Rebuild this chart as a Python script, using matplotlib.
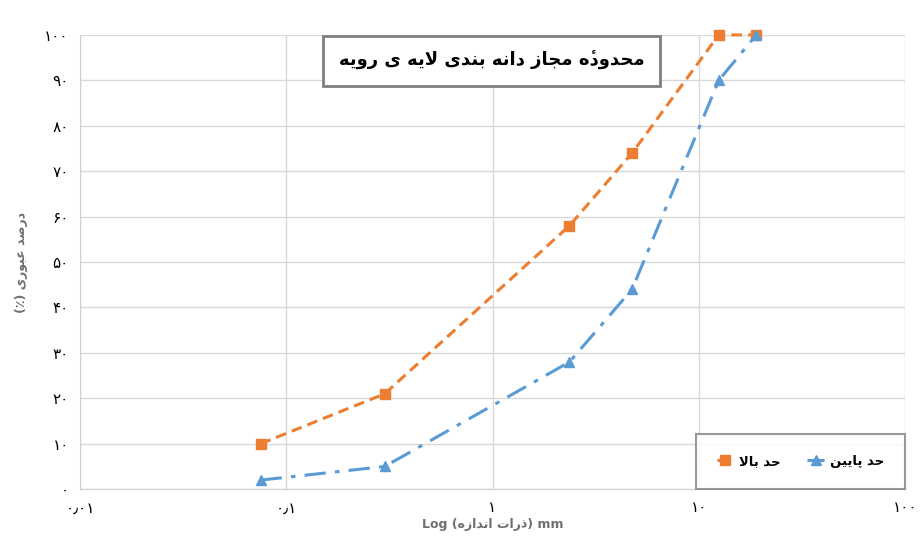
import matplotlib
matplotlib.use('Agg')
import matplotlib.pyplot as plt

# sieve sizes (mm) and passing percent
sieve_mm = [0.075, 0.3, 2.36, 4.75, 12.5, 19]
upper_pct = [10, 21, 58, 74, 100, 100]
lower_pct = [2, 5, 28, 44, 90, 100]

y_ticks = [0, 10, 20, 30, 40, 50, 60, 70, 80, 90, 100]
x_ticks = [0.01, 0.1, 1, 10, 100]
x_tick_labels = ['۰٫۰۱', '۰٫۱', '۱', '۱۰', '۱۰۰']

title_txt = 'محدودهٔ مجاز دانه بندی لایه ی رویه'
upper_name = 'حد بالا'
lower_name = 'حد پایین'
ylabel_txt = 'درصد عبوری'
xlabel_words = ['اندازه', 'ذرات']

# presentation forms: isolated, final, initial, medial
FORMS = {
    'ا': ('\uFE8D', '\uFE8E', None, None),
    'ب': ('\uFE8F', '\uFE90', '\uFE91', '\uFE92'),
    'ت': ('\uFE95', '\uFE96', '\uFE97', '\uFE98'),
    'ج': ('\uFE9D', '\uFE9E', '\uFE9F', '\uFEA0'),
    'ح': ('\uFEA1', '\uFEA2', '\uFEA3', '\uFEA4'),
    'د': ('\uFEA9', '\uFEAA', None, None),
    'ذ': ('\uFEAB', '\uFEAC', None, None),
    'ر': ('\uFEAD', '\uFEAE', None, None),
    'ز': ('\uFEAF', '\uFEB0', None, None),
    'ص': ('\uFEB9', '\uFEBA', '\uFEBB', '\uFEBC'),
    'ع': ('\uFEC9', '\uFECA', '\uFECB', '\uFECC'),
    'ل': ('\uFEDD', '\uFEDE', '\uFEDF', '\uFEE0'),
    'م': ('\uFEE1', '\uFEE2', '\uFEE3', '\uFEE4'),
    'ن': ('\uFEE5', '\uFEE6', '\uFEE7', '\uFEE8'),
    'ه': ('\uFEE9', '\uFEEA', '\uFEEB', '\uFEEC'),
    'و': ('\uFEED', '\uFEEE', None, None),
    'ی': ('\uFBFC', '\uFBFD', '\uFBFE', '\uFBFF'),
    'پ': ('\uFB56', '\uFB57', '\uFB58', '\uFB59'),
    'ﻻ': ('\uFEFB', '\uFEFC', None, None),
}
MARK = '\u0654'


def joins_next(ch):
    return ch in FORMS and FORMS[ch][2] is not None


def shape(text):
    # crude persian shaping + reversal for matplotlib
    text = text.replace('لا', 'ﻻ')
    out = []
    for i, ch in enumerate(text):
        if ch not in FORMS:
            out.append(ch)
            continue
        prev = text[i - 1] if i > 0 else ''
        nxt = text[i + 1] if i + 1 < len(text) else ''
        a = joins_next(prev)
        b = joins_next(ch) and nxt in FORMS
        iso, fin, ini, med = FORMS[ch]
        if a and b:
            out.append(med)
        elif a:
            out.append(fin)
        elif b:
            out.append(ini)
        else:
            out.append(iso)
    vis = ''.join(out)[::-1]
    # keep the hamza mark after its base letter
    while MARK in vis:
        k = vis.index(MARK)
        vis = vis[:k] + vis[k + 1] + '\x00' + vis[k + 2:]
    return vis.replace('\x00', MARK)


plt.rcParams['font.family'] = ['DejaVu Sans']

fig = plt.figure(figsize=(9.22, 5.37), dpi=100)
ax = fig.add_axes([0.0868, 0.089, 0.8948, 0.846])

ax.plot(sieve_mm, upper_pct, color='#ED7D31', lw=2.2, dashes=(3.5, 2),
        marker='s', ms=7, label=shape(upper_name), zorder=3, clip_on=False)
ax.plot(sieve_mm, lower_pct, color='#5B9BD5', lw=2.2, dashes=(7, 3, 1.5, 3),
        marker='^', ms=7, label=shape(lower_name), zorder=3, clip_on=False)

ax.set_xscale('log')
ax.set_xlim(0.01, 100)
ax.set_ylim(0, 100)
ax.set_xticks(x_ticks)
ax.set_xticklabels(x_tick_labels, fontsize=11)
ax.set_yticks(y_ticks)
ax.set_yticklabels([''.join('۰۱۲۳۴۵۶۷۸۹'[int(c)] for c in str(v)) for v in y_ticks],
                   fontsize=11)
ax.minorticks_off()
ax.tick_params(length=0, pad=8)
ax.grid(True, color='#d9d9d9', lw=1)
ax.set_axisbelow(True)
for s in ['top', 'right']:
    ax.spines[s].set_visible(False)
for s in ['left', 'bottom']:
    ax.spines[s].set_color('#d0d0d0')

ax.set_ylabel('(٪) ' + shape(ylabel_txt), fontsize=9, fontweight='bold', color='#707070', labelpad=12)
ax.set_xlabel('Log (' + shape(xlabel_words[0]) + ' ' + shape(xlabel_words[1]) + ') mm',
              fontsize=9, fontweight='bold', color='#707070', labelpad=2)

ax.text(0.499, 0.943, shape(title_txt), transform=ax.transAxes, ha='center', va='center',
        fontsize=13, fontweight='bold', zorder=5,
        bbox=dict(boxstyle='square,pad=0.85', fc='white', ec='#808080', lw=2))

leg = ax.legend(loc='lower right', ncol=2, frameon=True, fancybox=False,
                borderaxespad=0, handlelength=1.3, handletextpad=0.4, columnspacing=2.0,
                borderpad=1.6, prop={'weight': 'bold', 'size': 9.5})
leg.get_frame().set_edgecolor('#808080')
leg.get_frame().set_linewidth(1.5)

fig.savefig('out.png', dpi=100)
